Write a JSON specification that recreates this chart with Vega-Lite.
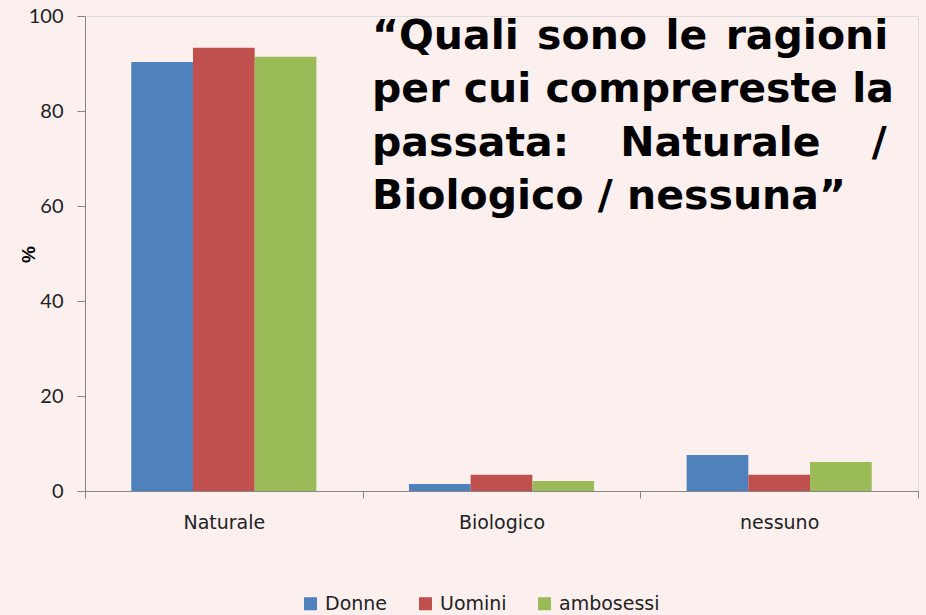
{
  "$schema": "https://vega.github.io/schema/vega-lite/v6.json",
  "width": 833,
  "height": 475,
  "autosize": {"type": "none"},
  "padding": {"left": 85, "top": 16, "right": 8, "bottom": 124},
  "background": "#fcf0ef",
  "title": {
    "text": ["“Quali\u200a sono\u200a le\u200a ragioni", "per cui comprereste la", "passata:\u00a0\u00a0\u00a0\u2009Naturale\u00a0\u00a0\u00a0\u2009/", "Biologico / nessuna”"],
    "anchor": "start",
    "frame": "group",
    "align": "left",
    "dx": 287,
    "dy": 216,
    "font": "DejaVu Sans",
    "fontSize": 41,
    "fontWeight": "bold",
    "lineHeight": 53.5,
    "color": "#000000"
  },
  "data": {
    "values": [
      {"risposta": "Naturale", "genere": "Donne", "valore": 90.3},
      {"risposta": "Naturale", "genere": "Uomini", "valore": 93.3},
      {"risposta": "Naturale", "genere": "ambosessi", "valore": 91.4},
      {"risposta": "Biologico", "genere": "Donne", "valore": 1.5},
      {"risposta": "Biologico", "genere": "Uomini", "valore": 3.4},
      {"risposta": "Biologico", "genere": "ambosessi", "valore": 2.1},
      {"risposta": "nessuno", "genere": "Donne", "valore": 7.6},
      {"risposta": "nessuno", "genere": "Uomini", "valore": 3.4},
      {"risposta": "nessuno", "genere": "ambosessi", "valore": 6.1}
    ]
  },
  "mark": {"type": "bar"},
  "encoding": {
    "x": {
      "field": "risposta",
      "type": "nominal",
      "sort": ["Naturale", "Biologico", "nessuno"],
      "scale": {"paddingInner": 0, "paddingOuter": 0},
      "axis": {
        "title": null,
        "labelAngle": 0,
        "tickBand": "extent",
        "labelFont": "DejaVu Sans",
        "labelFontSize": 19,
        "labelColor": "#222222",
        "labelPadding": 15,
        "tickSize": 7,
        "tickColor": "#868686",
        "domainColor": "#868686"
      }
    },
    "xOffset": {
      "field": "genere",
      "sort": ["Donne", "Uomini", "ambosessi"],
      "scale": {"paddingInner": 0, "paddingOuter": 0.75}
    },
    "y": {
      "field": "valore",
      "type": "quantitative",
      "scale": {"domain": [0, 100]},
      "axis": {
        "title": "%",
        "values": [0, 20, 40, 60, 80, 100],
        "grid": false,
        "labelFont": "Lato",
        "labelFontSize": 20,
        "labelColor": "#222222",
        "labelPadding": 14,
        "tickSize": 8,
        "tickColor": "#868686",
        "domainColor": "#868686",
        "titleFont": "Liberation Sans",
        "titleFontSize": 19,
        "titleFontWeight": "bold",
        "titleColor": "#000000",
        "titleX": -57,
        "titleY": 238,
        "titleAngle": -90,
        "titleAlign": "center",
        "titleBaseline": "middle"
      }
    },
    "color": {
      "field": "genere",
      "type": "nominal",
      "scale": {"domain": ["Donne", "Uomini", "ambosessi"], "range": ["#4f81bd", "#c0504d", "#9bbb59"]},
      "legend": {
        "title": null,
        "orient": "none",
        "direction": "horizontal",
        "legendX": 216,
        "legendY": 578,
        "symbolType": "square",
        "symbolSize": 170,
        "symbolStrokeWidth": 0,
        "symbolOpacity": 1,
        "labelFont": "DejaVu Sans",
        "labelFontSize": 19,
        "labelColor": "#222222",
        "labelOffset": 5,
        "columnPadding": 28
      }
    }
  }
}
